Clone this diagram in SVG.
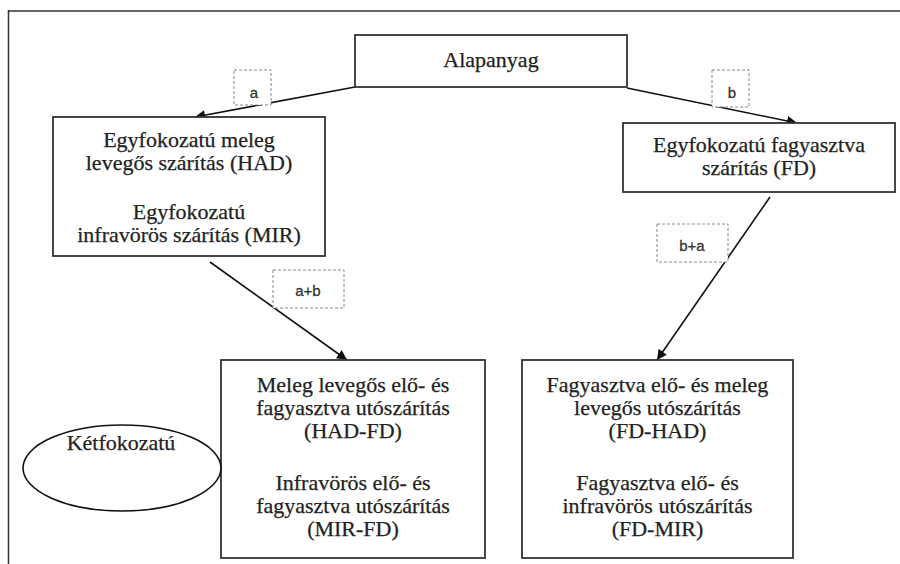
<svg xmlns="http://www.w3.org/2000/svg" width="900" height="564" viewBox="0 0 900 564">
<style>
.box{fill:#fff;stroke:#333;stroke-width:1.8}
.lbl{fill:#fff;stroke:#888;stroke-width:1;stroke-dasharray:3 2}
.t{font-family:"Liberation Serif","Times New Roman",serif;font-size:22px;fill:#222;stroke:#222;stroke-width:0.25;text-anchor:middle}
.s{font-family:"Liberation Sans",Arial,sans-serif;font-size:15px;fill:#333;stroke:#333;stroke-width:0.3;text-anchor:middle}
.c{stroke:#111;stroke-width:1.6;fill:none;marker-end:url(#ah)}
</style>
<defs>
<marker id="ah" viewBox="0 0 10 10" refX="10" refY="5" markerWidth="11" markerHeight="10" markerUnits="userSpaceOnUse" orient="auto">
<path d="M0,0 L10,5 L0,10 z" fill="#111"/>
</marker>
</defs>
<rect width="900" height="564" fill="#fff"/>
<g id="frame">
<line x1="8" y1="11" x2="900" y2="11" stroke="#666" stroke-width="2"/>
<line x1="8.5" y1="10" x2="8.5" y2="564" stroke="#333" stroke-width="1.5"/>
</g>
<g id="connectors">
<line class="c" x1="355" y1="87" x2="195" y2="117"/>
<line class="c" x1="627" y1="88" x2="797" y2="123"/>
<line class="c" x1="210" y1="262" x2="347" y2="360"/>
<line class="c" x1="770" y1="197" x2="657" y2="360"/>
</g>
<g id="label-a"><rect class="lbl" x="234" y="70" width="37" height="35"/><text class="s" x="254" y="98">a</text></g>
<g id="label-b"><rect class="lbl" x="712" y="70" width="37" height="37"/><text class="s" x="732" y="98">b</text></g>
<g id="label-ab"><rect class="lbl" x="273" y="270" width="71" height="38"/><text class="s" x="308" y="296">a+b</text></g>
<g id="label-ba"><rect class="lbl" x="657" y="224" width="71" height="38"/><text class="s" x="692" y="251">b+a</text></g>
<g id="alapanyag">
<rect class="box" x="355" y="35" width="272" height="52"/>
<text class="t" x="491" y="67">Alapanyag</text>
</g>
<g id="egy-had-mir">
<rect class="box" x="53" y="117" width="272" height="139"/>
<text class="t" x="189" y="147">Egyfokozatú meleg</text>
<text class="t" x="189" y="170">levegős szárítás (HAD)</text>
<text class="t" x="189" y="219">Egyfokozatú</text>
<text class="t" x="189" y="242">infravörös szárítás (MIR)</text>
</g>
<g id="egy-fd">
<rect class="box" x="623" y="123" width="272" height="69"/>
<text class="t" x="759" y="152">Egyfokozatú fagyasztva</text>
<text class="t" x="759" y="175">szárítás (FD)</text>
</g>
<g id="had-fd">
<rect class="box" x="221" y="360" width="264" height="198"/>
<text class="t" x="353" y="392">Meleg levegős elő- és</text>
<text class="t" x="353" y="415">fagyasztva utószárítás</text>
<text class="t" x="353" y="438">(HAD-FD)</text>
<text class="t" x="353" y="490">Infravörös elő- és</text>
<text class="t" x="353" y="513">fagyasztva utószárítás</text>
<text class="t" x="353" y="536">(MIR-FD)</text>
</g>
<g id="fd-had">
<rect class="box" x="522" y="360" width="271" height="198"/>
<text class="t" x="657.5" y="392">Fagyasztva elő- és meleg</text>
<text class="t" x="657.5" y="415">levegős utószárítás</text>
<text class="t" x="657.5" y="438">(FD-HAD)</text>
<text class="t" x="657.5" y="490">Fagyasztva elő- és</text>
<text class="t" x="657.5" y="513">infravörös utószárítás</text>
<text class="t" x="657.5" y="536">(FD-MIR)</text>
</g>
<g id="ketfokozatu">
<ellipse cx="122" cy="468" rx="99" ry="43" fill="#fff" stroke="#111" stroke-width="1.6"/>
<text class="t" x="121" y="450">Kétfokozatú</text>
</g>
</svg>
